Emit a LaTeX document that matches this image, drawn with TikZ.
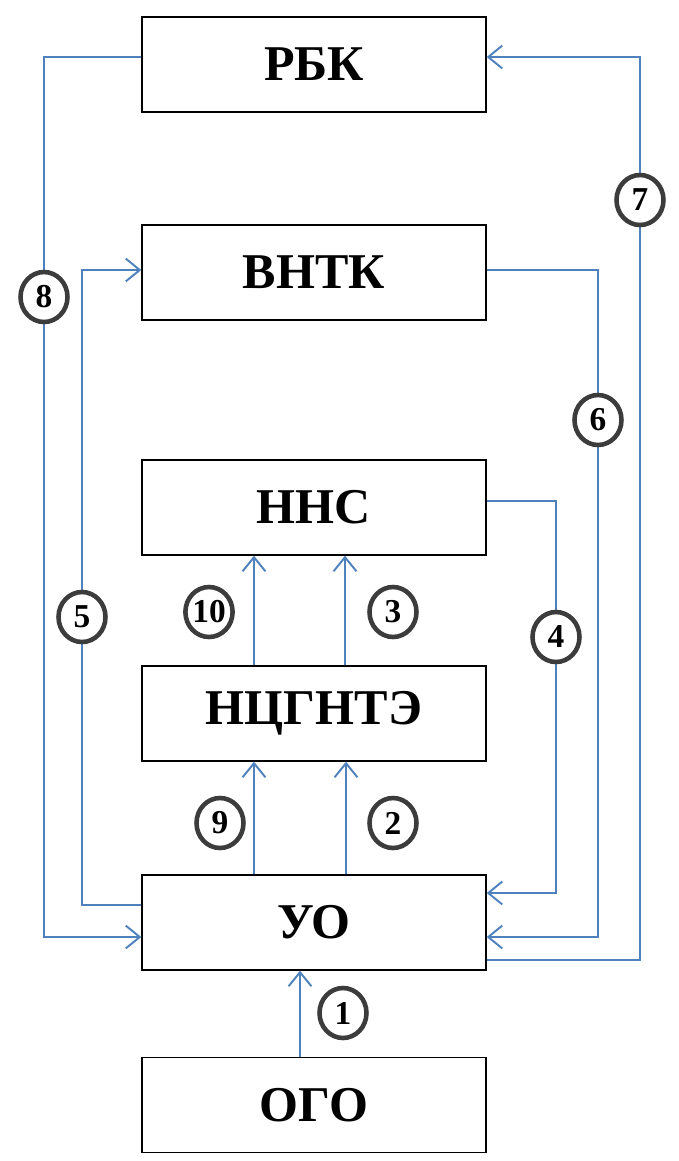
\documentclass[tikz,border=0pt]{standalone}
\usepackage{fontspec}
\setmainfont{Liberation Serif}
\usetikzlibrary{arrows.meta,shapes.geometric}
\definecolor{liniya}{HTML}{4F81BD}
\definecolor{obvod}{HTML}{3C3C3C}

\begin{document}
\begin{tikzpicture}[x=0.02cm,y=-0.02cm,
    blok/.style={draw=black,line width=0.8pt,minimum width=6.88cm,minimum height=1.9cm,inner sep=0pt,font=\fontsize{28.5}{30}\selectfont\bfseries},
    svyaz/.style={draw=liniya,line width=1.1pt},
    strelka/.style={svyaz,-{Straight Barb[length=8pt,width=13pt,line width=1.1pt]}},
    nomer/.style={ellipse,draw=obvod,line width=2.6pt,fill=white,minimum width=0.94cm,minimum height=1cm,inner sep=0pt,font=\fontsize{19}{20}\selectfont\bfseries}]
    \useasboundingbox (0,0) rectangle (679,1161);

    \node[blok] (rbk) at (314,64.5) {РБК};
    \node[blok] (vntk) at (314,272.5) {ВНТК};
    \node[blok] (nns) at (314,507.5) {ННС};
    \node[blok] (ncg) at (314,713.5) {НЦГНТЭ};
    \node[blok] (uo) at (314,922.5) {УО};
    \node[blok] (ogo) at (314,1105) {ОГО};

    \draw[strelka] (ogo.north -| 300,0) -- (uo.south -| 300,0);
    \draw[strelka] (uo.north -| 346,0) -- (ncg.south -| 346,0);
    \draw[strelka] (uo.north -| 254,0) -- (ncg.south -| 254,0);
    \draw[strelka] (ncg.north -| 345,0) -- (nns.south -| 345,0);
    \draw[strelka] (ncg.north -| 254,0) -- (nns.south -| 254,0);
    \draw[strelka] (nns.east |- 0,501) -| (556,893) -- (uo.east |- 0,893);
    \draw[strelka] (uo.west |- 0,905) -| (82,270) -- (vntk.west |- 0,270);
    \draw[strelka] (vntk.east |- 0,270) -| (598,937) -- (uo.east |- 0,937);
    \draw[strelka] (uo.east |- 0,960) -| (640,57) -- (rbk.east |- 0,57);
    \draw[strelka] (rbk.west |- 0,57) -| (44,937) -- (uo.west |- 0,937);

    \node[nomer] (n1) at (343,1013) {1};
    \node[nomer] (n2) at (393,823) {2};
    \node[nomer] (n3) at (393,612) {3};
    \node[nomer] (n4) at (556,637) {4};
    \node[nomer] (n5) at (82,617) {5};
    \node[nomer] (n6) at (598,420) {6};
    \node[nomer] (n7) at (640,200) {7};
    \node[nomer] (n8) at (44,297) {8};
    \node[nomer] (n9) at (220,823) {9};
    \node[nomer] (n10) at (209,612) {10};
\end{tikzpicture}
\end{document}
